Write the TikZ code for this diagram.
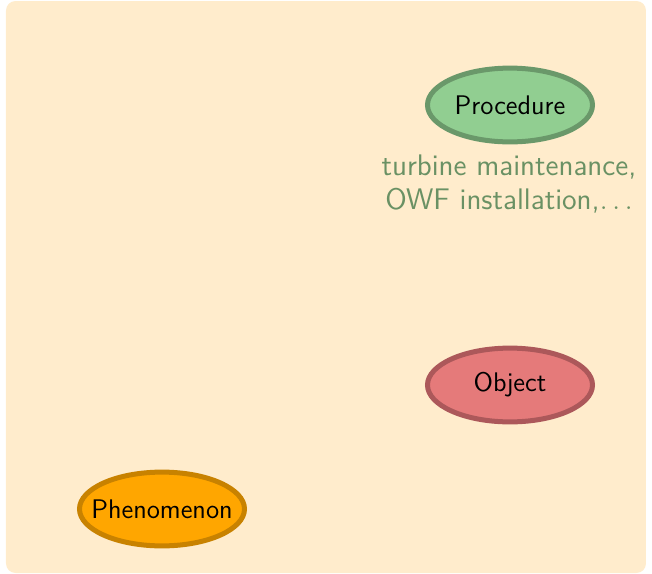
\documentclass[tikz,border=0pt]{standalone}
\usetikzlibrary{shapes.geometric}
\renewcommand{\familydefault}{\sfdefault}
\definecolor{bgcol}{RGB}{255,236,204}
\definecolor{procfill}{RGB}{145,206,145}
\definecolor{procdraw}{RGB}{106,152,106}
\definecolor{objfill}{RGB}{229,122,122}
\definecolor{objdraw}{RGB}{172,88,90}
\definecolor{phenfill}{RGB}{255,166,0}
\definecolor{phendraw}{RGB}{200,130,0}
\definecolor{notecol}{RGB}{106,145,100}
\newcommand{\conceptlabel}[1]{\makebox[0pt]{#1}}
\begin{document}
\begin{tikzpicture}[x=0.42pt,y=-0.42pt,
  concept/.style={ellipse, line width=2.1pt, minimum width=69.3pt, minimum height=31pt, inner sep=0pt, font=\fontsize{11.3}{13}\selectfont},
  note/.style={align=center, font=\fontsize{12.5}{14}\selectfont, text=notecol}]
  \useasboundingbox (0,0) rectangle (652,574);
  % canvas
  \fill[bgcol, rounded corners=4pt] (6,1) rectangle (646,573);
  % concepts
  \node[concept, fill=procfill, draw=procdraw] (proc) at (510,105) {\conceptlabel{Procedure}};
  \node[concept, fill=objfill, draw=objdraw] (obj) at (510,385) {\conceptlabel{Object}};
  \node[concept, fill=phenfill, draw=phendraw] (phen) at (162,509) {\conceptlabel{Phenomenon}};
  % examples
  \node[note] (ex) at (509,184) {turbine maintenance,\\OWF installation,$\ldots$};
\end{tikzpicture}
\end{document}
